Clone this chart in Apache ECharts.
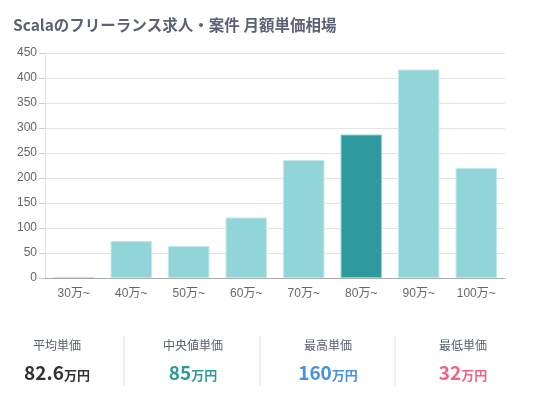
<!DOCTYPE html>
<html><head><meta charset="utf-8">
<script src="https://cdn.jsdelivr.net/npm/echarts@6/dist/echarts.min.js"></script>
<style>html,body{margin:0;padding:0;background:#fff}#c{width:539px;height:397px}</style>
</head><body><div id="c"></div>
<script>
const categories = ['30万~','40万~','50万~','60万~','70万~','80万~','90万~','100万~'];
const counts = [2, 74, 64, 121, 236, 287, 417, 220];
const highlightIndex = 5;
const yTicks = [0, 50, 100, 150, 200, 250, 300, 350, 400, 450];
const statLabels = ['平均単価','中央値単価','最高単価','最低単価'];
const statValues = ['82.6','85','160','32'];
const statColors = ['#333333','#2e9a9d','#4a8fe0','#f0637f'];

const font = '"Noto Sans CJK JP", "Noto Sans", sans-serif';
const axisFont = '"Liberation Sans", "Noto Sans CJK JP", sans-serif';
const chart = echarts.init(document.getElementById('c'));
const colX = [57, 193, 328, 463];
const graphics = [];
statLabels.forEach((l, i) => {
  graphics.push({type:'text', x: colX[i], y: 345, style:{text:l, fill:'#555d6e', font:'12px ' + font, textAlign:'center', textVerticalAlign:'middle'}});
  graphics.push({type:'text', x: colX[i], y: 382, style:{
    text:'{n|' + statValues[i] + '}{u|万円}', textAlign:'center', textVerticalAlign:'bottom',
    rich:{n:{fontSize:19, fontWeight:'bold', fill:statColors[i], fontFamily:font, verticalAlign:'bottom', lineHeight:23},
          u:{fontSize:13, fontWeight:'bold', fill:statColors[i], fontFamily:font, verticalAlign:'bottom', lineHeight:20}}
  }});
});
[124, 260, 395].forEach(x => graphics.push({type:'line', shape:{x1:x, y1:336, x2:x, y2:386}, style:{stroke:'#dcdfe4', lineWidth:1}}));

chart.setOption({
  animation:false,
  title:{text:'Scalaのフリーランス求人・案件 月額単価相場', left:8, top:12,
    textStyle:{fontSize:15.5, fontWeight:'bold', color:'#5b6275', fontFamily:font}},
  grid:{left:45, right:34, top:53, bottom:119},
  xAxis:{type:'category', data:categories,
    axisLine:{lineStyle:{color:'#aaaaaa'}}, axisTick:{show:false},
    axisLabel:{color:'#666', fontSize:12, margin:10, fontFamily:axisFont}},
  yAxis:{type:'value', min:yTicks[0], max:yTicks[yTicks.length-1], interval:50,
    axisLine:{show:true, lineStyle:{color:'#e0e0e0'}},
    axisTick:{show:true, length:6, lineStyle:{color:'#cccccc'}},
    splitLine:{lineStyle:{color:'#e3e3e3'}},
    axisLabel:{color:'#666', fontSize:12, margin:8, fontFamily:axisFont}},
  series:[{type:'bar', barWidth:'72%',
    data:counts.map((v,i)=>({value:v, itemStyle:{
      color: i===highlightIndex ? '#2e9a9d' : '#91d5d9',
      borderColor: i===highlightIndex ? '#8fcfd2' : '#c3e8ea', borderWidth:1}}))}],
  graphic: graphics
});
</script></body></html>
